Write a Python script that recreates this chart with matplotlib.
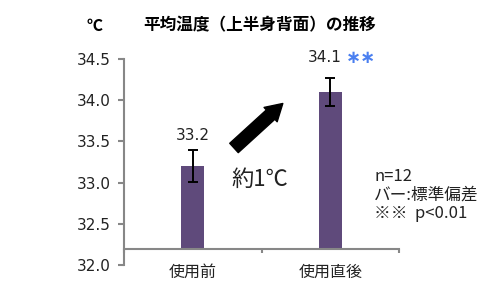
import matplotlib
matplotlib.use("Agg")
import matplotlib.pyplot as plt

plt.rcParams['font.family'] = ['DejaVu Sans', 'Noto Sans CJK JP']

categories = ["使用前", "使用直後"]
means = [33.2, 34.1]
sds = [0.19, 0.17]
value_labels = ["33.2", "34.1"]
yticks = [32.0, 32.5, 33.0, 33.5, 34.0, 34.5]

BAR_COLOR = "#5f4a7b"
AXIS_COLOR = "#878787"
TEXT_COLOR = "#222222"
BASE = 32.2  # excel draws the category axis here
JP = ['Noto Sans CJK JP', 'DejaVu Sans']

fig = plt.figure(figsize=(5, 3), dpi=100)
ax = fig.add_axes([0.248, 0.1167, 0.55, 0.6867])

x = list(range(len(categories)))
ax.bar(x, [m - BASE for m in means], bottom=BASE, width=0.167,
       color=BAR_COLOR, zorder=2)
ax.errorbar(x, means, yerr=sds, fmt="none", ecolor="black",
            elinewidth=1.4, capsize=3.5, capthick=1.4, zorder=3)

# value labels above error bars
ax.text(x[0], means[0] + sds[0] + 0.18, value_labels[0], ha="center", va="center",
        fontsize=11, color=TEXT_COLOR)
ax.text(x[1] - 0.04, means[1] + sds[1] + 0.25, value_labels[1], ha="center",
        va="center", fontsize=11, color=TEXT_COLOR)
ax.text(1.22, means[1] + sds[1] + 0.245, "∗∗", ha="center", va="center",
        fontsize=13, color="#4a7ff0", fontweight="bold")

ax.set_xlim(-0.5, 1.5)
ax.set_ylim(32.0, 34.5)
ax.set_yticks(yticks)
ax.set_yticklabels([f"{v:.1f}" for v in yticks])
ax.set_xticks(x)
ax.set_xticklabels(categories, family=JP)
ax.set_xticks([-0.5, 0.5, 1.5], minor=True)

for s in ["top", "right"]:
    ax.spines[s].set_visible(False)
ax.spines["left"].set_color(AXIS_COLOR)
ax.spines["left"].set_linewidth(1.5)
ax.spines["bottom"].set_position(("data", BASE))
ax.spines["bottom"].set_color(AXIS_COLOR)
ax.spines["bottom"].set_linewidth(1.5)

ax.tick_params(axis="y", length=4.5, width=1.5, color=AXIS_COLOR,
               labelsize=11, labelcolor=TEXT_COLOR, pad=5)
ax.tick_params(axis="x", which="major", length=0, labelsize=11.5,
               labelcolor=TEXT_COLOR, pad=12)
ax.tick_params(axis="x", which="minor", length=3, width=1.5, color=AXIS_COLOR)

# arrow and difference label
ax.annotate("", xy=(0.655, 33.96), xytext=(0.30, 33.42),
            arrowprops=dict(arrowstyle="simple,head_length=0.85,head_width=1.0,tail_width=0.65",
                            color="black", shrinkA=0, shrinkB=0, mutation_scale=14))
ax.text(0.49, 33.04, "約1℃", ha="center", va="center", fontsize=16,
        color=TEXT_COLOR, family=JP)

fig.text(0.52, 0.915, "平均温度（上半身背面）の推移", ha="center", va="center",
         fontsize=12, fontweight="bold", family=JP)
fig.text(0.19, 0.915, "℃", ha="center", va="center", fontsize=11.5,
         fontweight="bold", family=JP)

fig.text(0.748, 0.35, "n=12\nバー:標準偏差\n※※  p<0.01", ha="left", va="center",
         fontsize=12, linespacing=1.1, color=TEXT_COLOR, family=JP)

fig.savefig("out.png", dpi=100)
